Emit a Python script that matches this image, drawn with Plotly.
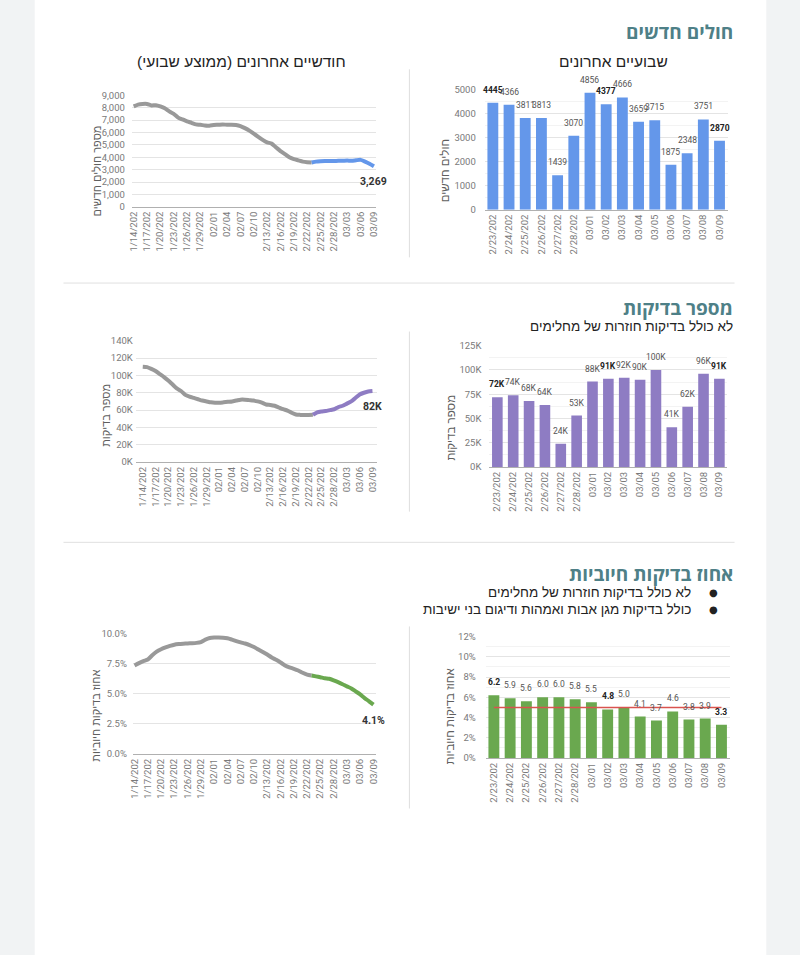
import pandas as pd
import plotly.graph_objects as go

W, H = 800, 955

# ---------------- data ----------------
line_dates = [d.strftime("%Y-%m-%d") for d in pd.date_range("2021-01-14", "2021-03-09")]
line_tick_text = ["1/14/202", "1/17/202", "1/20/202", "1/23/202", "1/26/202", "1/29/202",
                  "02/01", "02/04", "02/07", "02/10", "2/13/202", "2/16/202", "2/19/202",
                  "2/22/202", "2/25/202", "2/28/202", "03/03", "03/06", "03/09"]

cases_avg = [8100, 8250, 8300, 8300, 8180, 8200, 8100, 7950, 7700, 7500,
             7200, 7050, 6900, 6780, 6650, 6620, 6560, 6550, 6600, 6620,
             6650, 6620, 6620, 6600, 6520, 6350, 6150, 5900, 5650, 5400,
             5200, 5100, 4800, 4500, 4250, 4000, 3850, 3750, 3650, 3600,
             3580, 3650, 3680, 3700, 3700, 3700, 3710, 3720, 3730, 3720,
             3760, 3790, 3650, 3480, 3269]

tests_avg_k = [110, 109.5, 107.5, 105, 101.5, 98, 94, 89.5, 85, 82,
               77.5, 75.5, 74, 72.5, 71, 70, 69, 68.5, 68.5, 69,
               69.5, 70, 71, 72, 72, 71.5, 71, 70, 68.5, 66.5,
               66, 65, 63, 61, 59.5, 57, 55, 54.5, 54.3, 54.4,
               54.6, 57.5, 58.5, 59, 60, 61, 63.5, 65, 67.5, 70,
               74, 78, 80, 81.5, 82]

positive_avg = [7.36, 7.55, 7.72, 7.85, 8.2, 8.5, 8.7, 8.85, 8.98, 9.08,
                9.13, 9.16, 9.18, 9.2, 9.23, 9.3, 9.5, 9.63, 9.67, 9.67,
                9.66, 9.61, 9.5, 9.38, 9.27, 9.18, 9.05, 8.88, 8.68, 8.48,
                8.26, 8.02, 7.82, 7.6, 7.36, 7.2, 7.08, 6.94, 6.75, 6.6,
                6.52, 6.45, 6.38, 6.3, 6.25, 6.12, 5.97, 5.8, 5.62, 5.45,
                5.2, 4.95, 4.65, 4.38, 4.1]

bar_dates = ["2021-02-23", "2021-02-24", "2021-02-25", "2021-02-26", "2021-02-27",
             "2021-02-28", "2021-03-01", "2021-03-02", "2021-03-03", "2021-03-04",
             "2021-03-05", "2021-03-06", "2021-03-07", "2021-03-08", "2021-03-09"]
bar_tick_text = ["2/23/202", "2/24/202", "2/25/202", "2/26/202", "2/27/202", "2/28/202",
                 "03/01", "03/02", "03/03", "03/04", "03/05", "03/06", "03/07", "03/08", "03/09"]
cases_daily = [4445, 4366, 3811, 3813, 1439, 3070, 4856, 4377, 4666, 3659, 3715, 1875, 2348, 3751, 2870]
tests_daily_k = [72, 74, 68, 64, 24, 53, 88, 91, 92, 90, 100, 41, 62, 96, 91]
positive_daily = [6.2, 5.9, 5.6, 6.0, 6.0, 5.8, 5.5, 4.8, 5.0, 4.1, 3.7, 4.6, 3.8, 3.9, 3.3]
positive_target = [5, 5, 5, 5, 5, 5, 5, 5, 5, 5, 5, 5, 5, 5, 5]
bold_dates = ["2021-02-23", "2021-03-02", "2021-03-09"]

# ---------------- style ----------------
NUM = "Roboto, 'Liberation Sans', Arial, sans-serif"
HEB = "'Liberation Sans', Arial, sans-serif"
TITLE_FONT = "'Open Sans', 'Liberation Sans', Arial, sans-serif"
GRAY = "#999999"
BLUE = "#6497ea"
PURPLE = "#8e7cc3"
GREEN = "#6aa84f"
RED = "#d9534f"
TEAL = "#4e8087"
BG = "#f1f3f4"
RLM = "\u200f"


def rtl(s):
    return RLM + s + RLM


def dx(a, b):
    return [a / W, b / W]


def dy(top, bottom):
    return [1 - bottom / H, 1 - top / H]


def px(x):
    return x / W


def py(y):
    return 1 - y / H


fig = go.Figure()

split = line_dates.index(bar_dates[0])

line_sets = [
    ("x", "y", cases_avg, BLUE),
    ("x3", "y3", tests_avg_k, PURPLE),
    ("x5", "y5", positive_avg, GREEN),
]
for xa, ya, vals, col in line_sets:
    fig.add_trace(go.Scatter(x=line_dates[:split + 1], y=vals[:split + 1], xaxis=xa, yaxis=ya,
                             mode="lines", line=dict(color=GRAY, width=4, shape="spline", smoothing=0.6),
                             hoverinfo="skip", showlegend=False))
    fig.add_trace(go.Scatter(x=line_dates[split:], y=vals[split:], xaxis=xa, yaxis=ya,
                             mode="lines", line=dict(color=col, width=4, shape="spline", smoothing=0.6),
                             hoverinfo="skip", showlegend=False))

bar_sets = [
    ("x2", "y2", cases_daily, BLUE),
    ("x4", "y4", tests_daily_k, PURPLE),
    ("x6", "y6", positive_daily, GREEN),
]
for xa, ya, vals, col in bar_sets:
    fig.add_trace(go.Bar(x=bar_dates, y=vals, xaxis=xa, yaxis=ya, marker=dict(color=col, line=dict(width=0)),
                         hoverinfo="skip", showlegend=False))

fig.add_trace(go.Scatter(x=bar_dates, y=positive_target, xaxis="x6", yaxis="y6", mode="lines",
                         line=dict(color=RED, width=1.5), hoverinfo="skip", showlegend=False))

tickfont = dict(family=NUM, size=9.5, color="#7a7a7a")


def xcat(domain, rng, tickvals, ticktext, anchor):
    return dict(domain=domain, range=rng, type="category", tickmode="array", tickvals=tickvals,
                ticktext=ticktext, tickangle=-90, tickfont=tickfont, showgrid=False, zeroline=False,
                showline=True, linecolor="#b0b0b0", linewidth=1, ticks="", anchor=anchor, fixedrange=True)


def ylin(domain, top, dtick, fmt, suffix, anchor, minor=None, standoff=4):
    d = dict(domain=domain, range=[0, top * 1.002], dtick=dtick, tick0=0, tickformat=fmt, ticksuffix=suffix,
             anchor=anchor, showgrid=True, gridcolor="#e4e4e4", gridwidth=1, zeroline=False, showline=False,
             ticks="", tickfont=tickfont, fixedrange=True, ticklabelstandoff=standoff)
    if minor:
        d["minor"] = dict(dtick=minor, tick0=0, showgrid=True, gridcolor="#f3f3f3", gridwidth=1)
    return d


line_tickvals = line_dates[::3]

layout = dict(
    width=W, height=H, margin=dict(l=0, r=0, t=0, b=0),
    paper_bgcolor=BG, plot_bgcolor="rgba(0,0,0,0)",
    bargap=0.33, showlegend=False,
    xaxis=xcat(dx(129, 375), [-0.4, 54.4], line_tickvals, line_tick_text, "y"),
    yaxis=ylin(dy(91, 204), 9000, 1000, ",d", "", "x", standoff=6),
    xaxis2=xcat(dx(485, 730), [-0.5, 14.5], bar_dates, bar_tick_text, "y2"),
    yaxis2=ylin(dy(85, 207), 5000, 1000, "d", "", "x2", minor=500, standoff=8),
    xaxis3=xcat(dx(133, 376), [-1.63, 55.0], line_tickvals, line_tick_text, "y3"),
    yaxis3=ylin(dy(339, 462), 140, 20, "d", "K", "x3", standoff=2),
    xaxis4=xcat(dx(489.7, 729.7), [-0.5, 14.5], bar_dates, bar_tick_text, "y4"),
    yaxis4=ylin(dy(344, 467), 125, 25, "d", "K", "x4", minor=12.5, standoff=7),
    xaxis5=xcat(dx(130, 375), [-0.38, 54.51], line_tickvals, line_tick_text, "y5"),
    yaxis5=ylin(dy(635, 757), 10, 2.5, ".1f", "%", "x5", standoff=5),
    xaxis6=xcat(dx(486, 732), [-0.5, 14.5], bar_dates, bar_tick_text, "y6"),
    yaxis6=ylin(dy(638, 761), 12, 2, "d", "%", "x6", minor=1, standoff=9),
)

shapes = [
    dict(type="rect", xref="paper", yref="paper", x0=px(31), x1=px(769), y0=-0.01, y1=1.01,
         fillcolor="white", line=dict(width=0), layer="below"),
    dict(type="line", xref="paper", yref="paper", x0=px(60), x1=px(737), y0=py(281), y1=py(281),
         line=dict(color="#e0e0e0", width=1)),
    dict(type="line", xref="paper", yref="paper", x0=px(60), x1=px(737), y0=py(543), y1=py(543),
         line=dict(color="#e0e0e0", width=1)),
]
for top, bot in [(65, 255), (330, 512), (628, 812)]:
    shapes.append(dict(type="line", xref="paper", yref="paper", x0=px(409), x1=px(409), y0=py(top), y1=py(bot),
                       line=dict(color="#dedede", width=1)))
layout["shapes"] = shapes

ann = []


def text(x, y, s, size, color, family=HEB, anchor="center", angle=0):
    ann.append(dict(xref="paper", yref="paper", x=px(x), y=py(y), text=s, showarrow=False,
                    xanchor=anchor, yanchor="middle", textangle=angle,
                    font=dict(family=family, size=size, color=color)))


# section titles
text(737, 27, "<b>" + rtl("חולים חדשים") + "</b>", 19, TEAL, TITLE_FONT, "right")
text(737, 306, "<b>" + rtl("מספר בדיקות") + "</b>", 19, TEAL, TITLE_FONT, "right")
text(737, 575, "<b>" + rtl("אחוז בדיקות חיוביות") + "</b>", 19, TEAL, TITLE_FONT, "right")

# chart titles / subtitles
text(240, 57, rtl("חודשיים אחרונים (ממוצע שבועי)"), 15.5, "#222222")
text(615, 57, rtl("שבועיים אחרונים"), 15.5, "#222222")
text(737, 325, rtl("לא כולל בדיקות חוזרות של מחלימים"), 13.5, "#222222", HEB, "right")

# bullets
for yy, s in [(594, "לא כולל בדיקות חוזרות של מחלימים"), (611, "כולל בדיקות מגן אבות ואמהות ודיגום בני ישיבות")]:
    text(716, yy, "●", 10, "#222222", "DejaVu Sans")
    text(695, yy, rtl(s), 13.5, "#222222", HEB, "right")

# y axis titles
text(94, 168, rtl("מספר חולים חדשים"), 11, "#5f5f5f", HEB, angle=-90)
text(445, 168, rtl("חולים חדשים"), 11.5, "#5f5f5f", HEB, angle=-90)
text(103, 415, rtl("מספר בדיקות"), 11, "#5f5f5f", HEB, angle=-90)
text(450, 427, rtl("מספר בדיקות"), 11.5, "#5f5f5f", HEB, angle=-90)
text(93, 718, rtl("אחוז בדיקות חיוביות"), 11, "#5f5f5f", HEB, angle=-90)
text(450, 719, rtl("אחוז בדיקות חיוביות"), 11.5, "#5f5f5f", HEB, angle=-90)

# bar value labels
label_sets = [
    ("x2", "y2", cases_daily, lambda v: f"{v}"),
    ("x4", "y4", tests_daily_k, lambda v: f"{v}K"),
    ("x6", "y6", positive_daily, lambda v: f"{v:.1f}"),
]
for xa, ya, vals, fmt in label_sets:
    for i, (d, v) in enumerate(zip(bar_dates, vals)):
        s = fmt(v)
        bold = d in bold_dates
        ann.append(dict(xref=xa, yref=ya, x=i, y=v, text=f"<b>{s}</b>" if bold else s, showarrow=False,
                        xanchor="center", yanchor="bottom", yshift=6,
                        font=dict(family=NUM, size=8.5, color="#222222" if bold else "#555555")))

# last-value labels on line charts
end_labels = [
    ("x", "y", cases_avg[-1], f"{cases_avg[-1]:,}"),
    ("x3", "y3", tests_avg_k[-1], f"{round(tests_avg_k[-1])}K"),
    ("x5", "y5", positive_avg[-1], f"{positive_avg[-1]:.1f}%"),
]
for xa, ya, v, s in end_labels:
    ann.append(dict(xref=xa, yref=ya, x=len(line_dates) - 1, y=v, text=f"<b>{s}</b>", showarrow=False,
                    xanchor="center", yanchor="top", yshift=-7,
                    font=dict(family=NUM, size=10.5, color="#333333")))

layout["annotations"] = ann
fig.update_layout(**layout)
fig.write_html(
    "out.html",
    config={"displayModeBar": False},
    post_script=(
        "document.documentElement.style.margin='0';document.documentElement.style.padding='0';"
        "document.body.style.margin='0';document.body.style.padding='0';"
        "document.body.style.overflow='hidden';document.body.style.background='" + BG + "';"
        "var gd=document.getElementById('{plot_id}');gd.style.position='fixed';"
        "gd.style.left='0px';gd.style.top='0px';"
    ),
)
